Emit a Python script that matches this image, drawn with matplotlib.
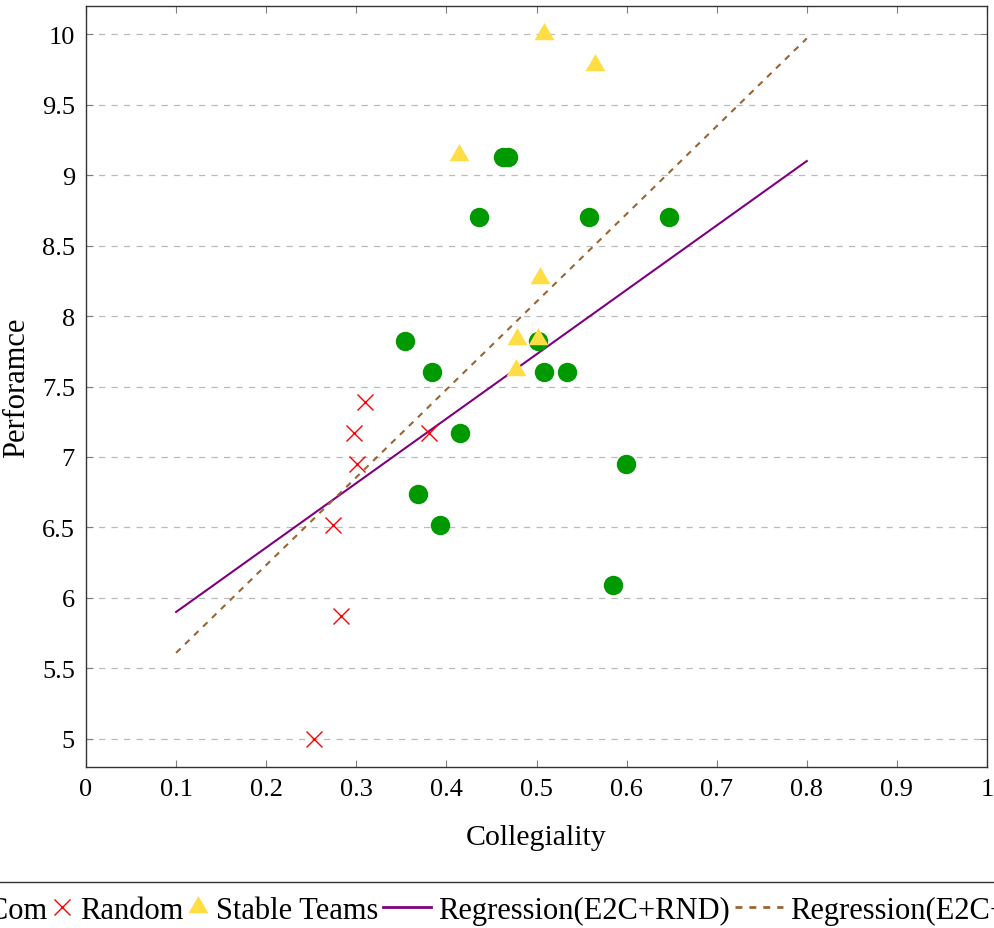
import matplotlib
matplotlib.use("Agg")
import matplotlib.pyplot as plt
from matplotlib.lines import Line2D
from matplotlib.ticker import FuncFormatter
from matplotlib.legend_handler import HandlerLine2D

plt.rcParams['font.family'] = ['Liberation Serif', 'DejaVu Serif']

# E2Com (green circles)
e2c_x = [0.436, 0.463, 0.468, 0.558, 0.647, 0.354, 0.502, 0.384, 0.508, 0.534,
         0.415, 0.599, 0.368, 0.393, 0.585]
e2c_y = [8.70, 9.13, 9.13, 8.70, 8.70, 7.82, 7.82, 7.60, 7.60, 7.60,
         7.17, 6.95, 6.74, 6.52, 6.09]

# Random (red crosses)
rnd_x = [0.310, 0.297, 0.381, 0.301, 0.274, 0.283, 0.253]
rnd_y = [7.39, 7.17, 7.17, 6.95, 6.52, 5.87, 5.00]

# Stable Teams (yellow triangles)
st_x = [0.508, 0.565, 0.414, 0.504, 0.478, 0.502, 0.477]
st_y = [10.00, 9.78, 9.14, 8.27, 7.84, 7.84, 7.62]

# Regression lines (end points)
reg1_x = [0.1, 0.8]
reg1_y = [5.90, 9.10]
reg2_x = [0.1, 0.8]
reg2_y = [5.61, 9.97]

xticks = [0, 0.1, 0.2, 0.3, 0.4, 0.5, 0.6, 0.7, 0.8, 0.9, 1]
yticks = [5, 5.5, 6, 6.5, 7, 7.5, 8, 8.5, 9, 9.5, 10]

labels = ["E2Com", "Random", "Stable Teams", "Regression(E2C+RND)", "Regression(E2C+ST)"]

W, H = 994, 929
fig = plt.figure(figsize=(W / 100, H / 100), dpi=100)
ax = fig.add_axes([86 / W, 1 - 768 / H, (987 - 86) / W, (768 - 7) / H])

tri = [(0, 1), (-0.866, -0.5), (0.866, -0.5)]

green = '#009900'
yellow = '#FFDD44'
purple = '#800080'
brown = '#996633'

ax.plot(reg1_x, reg1_y, color=purple, lw=1.5, zorder=2)
ax.plot(reg2_x, reg2_y, color=brown, lw=1.5, dashes=(3, 3), zorder=2)
ax.plot(e2c_x, e2c_y, 'o', color=green, ms=14, mec='none', zorder=3)
ax.plot(rnd_x, rnd_y, 'x', color='red', ms=11, mew=1.0, zorder=3)
ax.plot(st_x, st_y, marker=tri, ls='none', color=yellow, ms=16.5, mec='none', zorder=4)

ax.set_xlim(0, 1)
ax.set_ylim(4.8, 10.2)
ax.set_xticks(xticks)
ax.set_yticks(yticks)
fmt = FuncFormatter(lambda v, p: ('%g' % v))
ax.xaxis.set_major_formatter(fmt)
ax.yaxis.set_major_formatter(fmt)
ax.tick_params(direction='in', length=5, width=0.8, color='#808080',
               top=True, right=True, labelsize=19, pad=8)
ax.grid(axis='y', color='#BBBBBB', ls=(0, (5, 5)), lw=0.9)
ax.set_axisbelow(True)
for s in ax.spines.values():
    s.set_color('#333333')
    s.set_linewidth(1.0)

ax.set_xlabel('Collegiality', fontsize=21.5, labelpad=17)
ax.set_ylabel('Perforamce', fontsize=22, labelpad=8)


class NarrowMarkerHandler(HandlerLine2D):
    def __init__(self, frac=0.4, **kw):
        super().__init__(**kw)
        self.frac = frac

    def legend_artist(self, legend, orig_handle, fontsize, handlebox):
        handlebox.width = handlebox.width * self.frac
        return super().legend_artist(legend, orig_handle, fontsize, handlebox)


handles = [
    Line2D([], [], marker='o', ls='none', color=green, ms=14, mec='none'),
    Line2D([], [], marker='x', ls='none', color='red', ms=11, mew=1.0),
    Line2D([], [], marker=tri, ls='none', color=yellow, ms=16.5, mec='none'),
    Line2D([], [], color=purple, lw=2.0),
    Line2D([], [], color=brown, lw=2.0, dashes=(2.5, 2.5)),
]
hmap = {handles[0]: NarrowMarkerHandler(0.42, numpoints=1),
        handles[1]: NarrowMarkerHandler(0.42, numpoints=1),
        handles[2]: NarrowMarkerHandler(0.42, numpoints=1)}


def make_legend(x0):
    lg = fig.legend(handles, labels, loc='upper left', bbox_to_anchor=(x0, 1 - 883 / H),
                    ncol=5, fontsize=22, frameon=True, fancybox=False, edgecolor='black',
                    handlelength=1.57, handletextpad=0.25, columnspacing=0.15,
                    borderpad=0.45, borderaxespad=0, handler_map=hmap, numpoints=1)
    lg.get_frame().set_linewidth(1.0)
    return lg


leg = make_legend(0.0)
fig.canvas.draw()
r = fig.canvas.get_renderer()
bb = leg.get_texts()[1].get_window_extent(r)
shift = (80 - bb.x0) / W
leg.remove()
leg = make_legend(shift)

fig.savefig('out.png', dpi=100)
